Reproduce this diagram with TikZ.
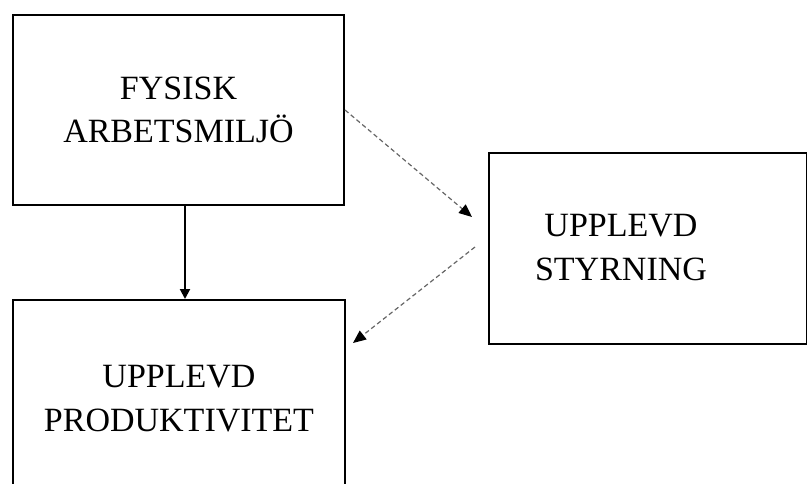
\documentclass[tikz,border=0pt]{standalone}
\usepackage{fontspec}
\setmainfont{Liberation Serif}
\usetikzlibrary{arrows.meta}
\begin{document}
\begin{tikzpicture}[x=1pt,y=1pt,
  box/.style={draw=black,line width=2pt,rectangle,inner sep=0pt,anchor=north west,align=center,
    font=\fontsize{34}{43.5}\selectfont},
  lbl/.style={align=center,inner sep=0pt,font=\fontsize{34}{43.5}\selectfont},
  solidarrow/.style={line width=2pt,-{Triangle[length=10pt,width=10pt]}},
  dasharrow/.style={draw=black!60,line width=1.2pt,dash pattern=on 4.5pt off 3pt,
    -{Triangle[length=13pt,width=11pt,color=black,fill=black]}}]
\clip (0,0) rectangle (807,-483);
\node[box,minimum width=331pt,minimum height=190pt] (fys) at (12,-14) {FYSISK\\ARBETSMILJÖ};
\node[box,minimum width=318pt,minimum height=191pt] (styr) at (488,-152) {};
\node[lbl] (styrtext) at (621,-247.5) {UPPLEVD\\STYRNING};
\node[box,minimum width=332pt,minimum height=197pt] (prod) at (12,-299) {UPPLEVD\\PRODUKTIVITET};
\coordinate (e1) at (472,-217);
\coordinate (s2) at (475,-247);
\coordinate (e2) at (353,-343);
\draw[solidarrow] ([xshift=6.5pt]fys.south) -- ([xshift=6.5pt]fys.south |- prod.north);
\draw[dasharrow] (fys.east) -- (e1);
\draw[dasharrow] (s2) -- (e2);
\end{tikzpicture}
\end{document}
